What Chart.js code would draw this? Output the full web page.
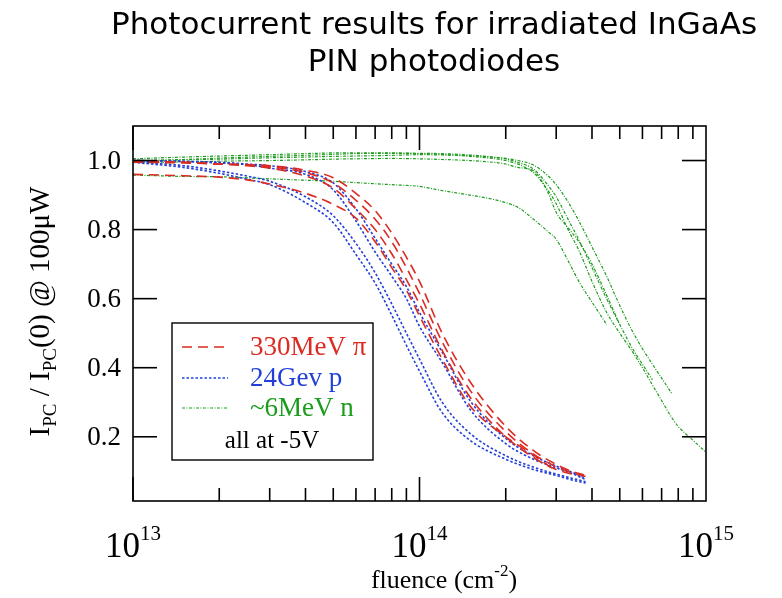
<!DOCTYPE html>
<html lang="en">
  <head>
    <meta charset="utf-8" />
    <title>Photocurrent results for irradiated InGaAs PIN photodiodes</title>
    <style>
      * {
        margin: 0;
        padding: 0;
      }
      body {
        background: white;
      }
      .chartBox {
        width: 782px;
        height: 598px;
      }
    </style>
  </head>
  <body>
    <div class="chartBox">
      <canvas id="myChart"></canvas>
    </div>

    <script src="https://cdn.jsdelivr.net/npm/chart.js"></script>

    <script>
      // fluence grids (cm^-2)
      const fluenceP = [1e13, 1.5e13, 2e13, 2.5e13, 3e13, 4e13, 5e13, 6e13, 7e13, 8e13, 9e13, 1e14, 1.2e14, 1.5e14, 2e14, 2.5e14, 3e14, 3.4e14, 3.8e14];
      const fluenceN = [1e13, 1.5e13, 2e13, 3e13, 4e13, 5e13, 6e13, 8e13, 1e14, 1.2e14, 1.5e14, 1.8e14, 2e14, 2.2e14, 2.5e14, 2.8e14, 3e14, 3.3e14, 3.6e14, 4e14, 4.5e14, 5e14, 5.5e14, 6e14, 6.5e14, 7e14, 7.6e14, 8e14, 9e14, 1e15];

      // 330MeV pions (red)
      const pion1 = [0.995, 0.993, 0.99, 0.988, 0.985, 0.972, 0.95, 0.905, 0.855, 0.79, 0.72, 0.65, 0.5, 0.36, 0.23, 0.16, 0.12, 0.1, 0.088];
      const pion2 = [1.0, 0.995, 0.99, 0.987, 0.982, 0.965, 0.935, 0.885, 0.83, 0.765, 0.69, 0.615, 0.475, 0.335, 0.215, 0.15, 0.113, 0.096, 0.085];
      const pion3 = [0.998, 0.995, 0.99, 0.985, 0.978, 0.955, 0.92, 0.86, 0.8, 0.73, 0.655, 0.585, 0.45, 0.315, 0.2, 0.14, 0.105, 0.092];
      const pion4 = [0.96, 0.956, 0.952, 0.944, 0.932, 0.905, 0.873, 0.833, 0.765, 0.69, 0.625, 0.55, 0.425, 0.29, 0.2, 0.147, 0.1];

      // 24GeV protons (blue)
      const proton1 = [0.995, 0.98, 0.963, 0.946, 0.93, 0.878, 0.82, 0.728, 0.645, 0.552, 0.465, 0.39, 0.27, 0.19, 0.135, 0.105, 0.088, 0.075, 0.066];
      const proton2 = [0.997, 0.985, 0.97, 0.955, 0.94, 0.895, 0.84, 0.76, 0.675, 0.585, 0.5, 0.425, 0.3, 0.21, 0.145, 0.112, 0.092, 0.08, 0.07];
      const proton3 = [1.0, 0.997, 0.993, 0.988, 0.978, 0.96, 0.915, 0.825, 0.735, 0.665, 0.6, 0.52, 0.415, 0.28, 0.18, 0.135, 0.11, 0.094, 0.076];
      const proton4 = [1.0, 0.998, 0.995, 0.99, 0.985, 0.968, 0.935, 0.86, 0.775, 0.7, 0.635, 0.56, 0.445, 0.305, 0.195, 0.145, 0.115, 0.098, 0.08];

      // ~6MeV neutrons (green)
      const neutron1 = [1.0, 1.002, 1.004, 1.008, 1.01, 1.012, 1.013, 1.015, 1.017, 1.016, 1.014, 1.01, 1.006, 1.0, 0.987, 0.957, 0.93, 0.88, 0.825, 0.75, 0.665, 0.58, 0.51, 0.455, 0.41, 0.37, 0.325];
      const neutron2 = [0.998, 1.003, 1.007, 1.012, 1.015, 1.018, 1.02, 1.021, 1.02, 1.018, 1.012, 1.006, 1.0, 0.99, 0.965, 0.915, 0.875, 0.8, 0.74, 0.65, 0.56, 0.5, 0.45, 0.4, 0.35, 0.305, 0.255, 0.23, 0.19, 0.155];
      const neutron3 = [1.005, 1.01, 1.013, 1.017, 1.02, 1.022, 1.022, 1.022, 1.021, 1.02, 1.016, 1.01, 1.005, 0.995, 0.975, 0.93, 0.895, 0.83, 0.77, 0.69, 0.6, 0.525, 0.46, 0.41, 0.365];
      const neutron4 = [0.995, 0.996, 0.998, 1.0, 1.002, 1.004, 1.005, 1.006, 1.005, 1.003, 1.0, 0.995, 0.99, 0.98, 0.97, 0.91, 0.85, 0.805, 0.765, 0.7, 0.61, 0.525];
      const neutron5 = [0.958, 0.954, 0.953, 0.947, 0.943, 0.94, 0.936, 0.93, 0.925, 0.913, 0.9, 0.888, 0.878, 0.865, 0.83, 0.795, 0.772, 0.71, 0.65, 0.59, 0.525];

      // axis ticks
      const yTicks = [0.2, 0.4, 0.6, 0.8, 1.0];
      const xDecades = [13, 14, 15];

      // legend
      const legendLabels = ["330MeV \u03c0", "24Gev p", "~6MeV n"];
      const legendNote = "all at -5V";

      const RED = "#dc2b22";
      const BLUE = "#2240d8";
      const GREEN = "#1c9c1c";

      const pts = (xs, ys) => ys.map((y, i) => ({ x: xs[i], y: y }));

      const redStyle = { borderColor: RED, borderWidth: 1.6, borderDash: [10, 6] };
      const blueStyle = { borderColor: BLUE, borderWidth: 1.6, borderDash: [2.5, 2] };
      const greenStyle = { borderColor: GREEN, borderWidth: 1.2, borderDash: [3, 1.5, 1, 1.5] };

      // data block (first dataset is drawn on top)
      const data = {
        datasets: [
          { label: "pion1", data: pts(fluenceP, pion1), ...redStyle },
          { label: "pion2", data: pts(fluenceP, pion2), ...redStyle },
          { label: "pion3", data: pts(fluenceP, pion3), ...redStyle },
          { label: "pion4", data: pts(fluenceP, pion4), ...redStyle },
          { label: "proton1", data: pts(fluenceP, proton1), ...blueStyle },
          { label: "proton2", data: pts(fluenceP, proton2), ...blueStyle },
          { label: "proton3", data: pts(fluenceP, proton3), ...blueStyle },
          { label: "proton4", data: pts(fluenceP, proton4), ...blueStyle },
          { label: "neutron1", data: pts(fluenceN, neutron1), ...greenStyle },
          { label: "neutron2", data: pts(fluenceN, neutron2), ...greenStyle },
          { label: "neutron3", data: pts(fluenceN, neutron3), ...greenStyle },
          { label: "neutron4", data: pts(fluenceN, neutron4), ...greenStyle },
          { label: "neutron5", data: pts(fluenceN, neutron5), ...greenStyle },
        ],
      };

      const SERIF = '"Liberation Serif", "Times New Roman", serif';

      // draws frame, inward ticks, tick labels, axis titles, title and legend box
      const frameAndLabels = {
        id: "frameAndLabels",
        afterDraw(chart) {
          const { ctx, chartArea, scales } = chart;
          const { left, right, top, bottom } = chartArea;
          const line = (x1, y1, x2, y2) => {
            ctx.beginPath();
            ctx.moveTo(x1, y1);
            ctx.lineTo(x2, y2);
            ctx.stroke();
          };
          ctx.save();
          ctx.strokeStyle = "#000";
          ctx.lineWidth = 1.6;
          ctx.strokeRect(left, top, right - left, bottom - top);

          // x ticks, major at decades, minor at 2..9
          for (let d = xDecades[0]; d < xDecades[xDecades.length - 1]; d++) {
            for (let m = 1; m <= 9; m++) {
              const px = scales.x.getPixelForValue(m * Math.pow(10, d));
              const len = m === 1 ? 24 : 13;
              line(px, bottom, px, bottom - len);
              line(px, top, px, top + len);
            }
          }
          // y ticks
          ctx.fillStyle = "#000";
          ctx.font = "27px " + SERIF;
          ctx.textAlign = "right";
          ctx.textBaseline = "middle";
          yTicks.forEach((v) => {
            const py = scales.y.getPixelForValue(v);
            line(left, py, left + 24, py);
            line(right, py, right - 24, py);
            ctx.fillText(v.toFixed(1), left - 12, py + 1);
          });

          // x tick labels 10^n
          ctx.textAlign = "left";
          ctx.textBaseline = "alphabetic";
          xDecades.forEach((d) => {
            const px = scales.x.getPixelForValue(Math.pow(10, d));
            ctx.font = "35px " + SERIF;
            const wBase = ctx.measureText("10").width;
            ctx.font = "21px " + SERIF;
            const wExp = ctx.measureText(String(d)).width;
            const x0 = px - (wBase + wExp) / 2;
            ctx.font = "35px " + SERIF;
            ctx.fillText("10", x0, 557);
            ctx.font = "21px " + SERIF;
            ctx.fillText(String(d), x0 + wBase, 540);
          });

          // x axis title: fluence (cm^-2)
          const xParts = [
            { t: "fluence (cm", f: "26px " + SERIF, dy: 0 },
            { t: "-2", f: "17px " + SERIF, dy: -12 },
            { t: ")", f: "26px " + SERIF, dy: 0 },
          ];
          let wTot = 0;
          xParts.forEach((p) => {
            ctx.font = p.f;
            p.w = ctx.measureText(p.t).width;
            wTot += p.w;
          });
          let cx = 444 - wTot / 2;
          xParts.forEach((p) => {
            ctx.font = p.f;
            ctx.fillText(p.t, cx, 588 + p.dy);
            cx += p.w;
          });

          // y axis title: I_PC / I_PC(0) @ 100uW
          const yParts = [
            { t: "I", f: "29px " + SERIF, dy: 0 },
            { t: "PC", f: "19px " + SERIF, dy: 7 },
            { t: " / I", f: "29px " + SERIF, dy: 0 },
            { t: "PC", f: "19px " + SERIF, dy: 7 },
            { t: "(0) @ 100\u03bcW", f: "29px " + SERIF, dy: 0 },
          ];
          wTot = 0;
          yParts.forEach((p) => {
            ctx.font = p.f;
            p.w = ctx.measureText(p.t).width;
            wTot += p.w;
          });
          ctx.save();
          ctx.translate(49, (top + bottom) / 2 - 2);
          ctx.rotate(-Math.PI / 2);
          cx = -wTot / 2;
          yParts.forEach((p) => {
            ctx.font = p.f;
            ctx.fillText(p.t, cx, p.dy);
            cx += p.w;
          });
          ctx.restore();

          // title
          ctx.font = '31px "DejaVu Sans", sans-serif';
          ctx.textAlign = "center";
          ctx.fillText("Photocurrent results for irradiated InGaAs", 434, 34);
          ctx.fillText("PIN photodiodes", 434, 71);

          // legend box
          const bx = 172, by = 323, bw = 201, bh = 137;
          ctx.fillStyle = "#fff";
          ctx.fillRect(bx, by, bw, bh);
          ctx.lineWidth = 1.4;
          ctx.strokeStyle = "#000";
          ctx.strokeRect(bx, by, bw, bh);
          const styles = [redStyle, blueStyle, greenStyle];
          const rowsY = [347, 378, 408];
          ctx.textAlign = "left";
          ctx.textBaseline = "middle";
          ctx.font = "27px " + SERIF;
          legendLabels.forEach((lab, i) => {
            const s = styles[i];
            ctx.strokeStyle = s.borderColor;
            ctx.lineWidth = s.borderWidth;
            ctx.setLineDash(s.borderDash);
            line(182, rowsY[i], 228, rowsY[i]);
            ctx.setLineDash([]);
            ctx.fillStyle = s.borderColor;
            ctx.fillText(lab, 250, rowsY[i] + 1);
          });
          ctx.fillStyle = "#000";
          ctx.textAlign = "center";
          ctx.font = "25px " + SERIF;
          ctx.fillText(legendNote, 272, 441);
          ctx.restore();
        },
      };

      // config block
      const config = {
        type: "line",
        data: data,
        options: {
          responsive: true,
          maintainAspectRatio: false,
          animation: false,
          layout: {
            padding: { left: 133, right: 76, top: 126, bottom: 97 },
          },
          elements: {
            point: { radius: 0 },
            line: { cubicInterpolationMode: "monotone", fill: false },
          },
          plugins: {
            legend: { display: false },
            tooltip: { enabled: false },
          },
          scales: {
            x: { type: "logarithmic", min: 1e13, max: 1e15, display: false },
            y: { type: "linear", min: 0.014, max: 1.1, display: false },
          },
        },
        plugins: [frameAndLabels],
      };

      // init render block
      const myChart = new Chart(document.getElementById("myChart"), config);
    </script>
  </body>
</html>
